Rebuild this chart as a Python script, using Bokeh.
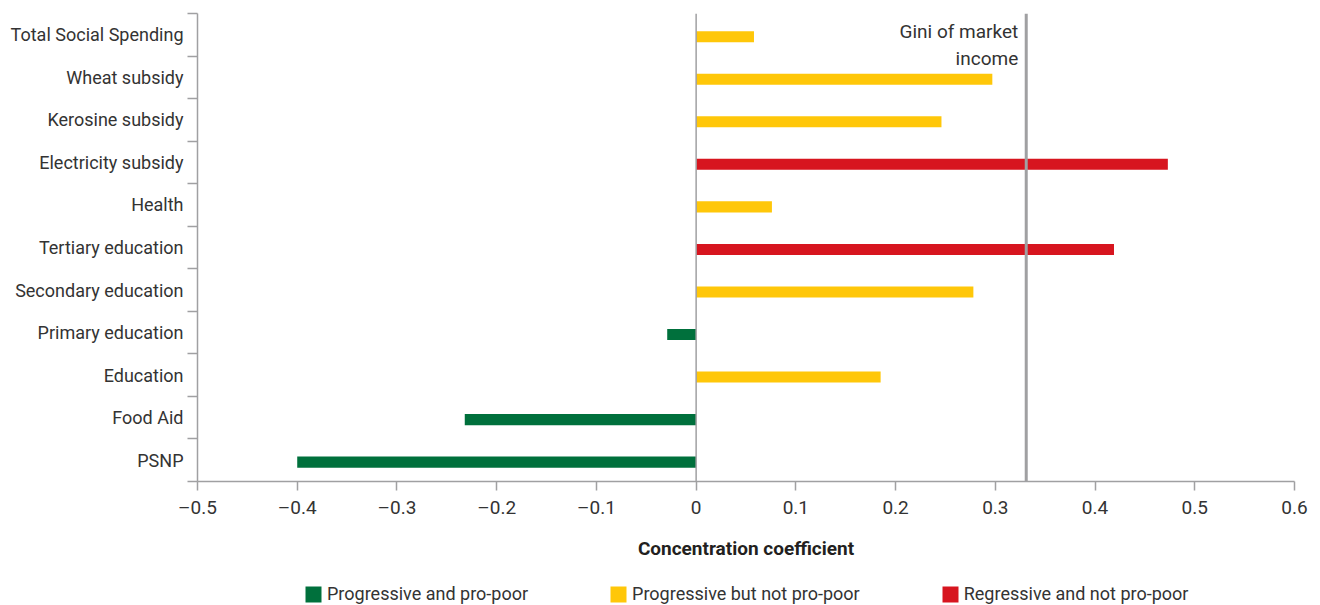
from bokeh.plotting import figure
from bokeh.layouts import column
from bokeh.models import (Range1d, FixedTicker, CustomJSTickFormatter, Span, Label,
                          Legend, LegendItem, ColumnDataSource)
from bokeh.embed import file_html
from bokeh.resources import INLINE

# ---- data ----
categories = ["PSNP", "Food Aid", "Education", "Primary education", "Secondary education",
              "Tertiary education", "Health", "Electricity subsidy", "Kerosine subsidy",
              "Wheat subsidy", "Total Social Spending"]
values = [-0.40, -0.232, 0.185, -0.029, 0.278, 0.419, 0.076, 0.473, 0.246, 0.297, 0.058]
groups = ["pro", "pro", "prog", "pro", "prog", "reg", "prog", "reg", "prog", "prog", "prog"]
group_order = ["pro", "prog", "reg"]
group_labels = {"pro": "Progressive and pro-poor",
                "prog": "Progressive but not pro-poor",
                "reg": "Regressive and not pro-poor"}
group_colors = {"pro": "#00703C", "prog": "#FFC709", "reg": "#D7151F"}
gini_market = 0.331
x_ticks = [-0.5, -0.4, -0.3, -0.2, -0.1, 0, 0.1, 0.2, 0.3, 0.4, 0.5, 0.6]

FONT = "Roboto"
TEXT = "#333333"
GRAY = "#A0A0A2"
W = 1316

p = figure(width=W, height=576, output_backend="svg", toolbar_location=None,
           x_range=Range1d(-0.5, 0.6), y_range=Range1d(-0.5, len(categories) - 0.5),
           min_border_left=197, min_border_right=22, min_border_top=13, min_border_bottom=95)
p.outline_line_color = None
p.xgrid.grid_line_color = None
p.ygrid.grid_line_color = None

# zero line and gini line
p.add_layout(Span(location=0, dimension="height", line_color=GRAY, line_width=1.5))
p.add_layout(Span(location=gini_market, dimension="height", line_color=GRAY, line_width=3))

for g in group_order:
    idx = [i for i, gg in enumerate(groups) if gg == g]
    src = ColumnDataSource(dict(y=[i - 0.045 for i in idx], right=[values[i] for i in idx]))
    p.hbar(y="y", left=0, right="right", height=0.26, source=src,
           fill_color=group_colors[g], line_color=None)

p.add_layout(Label(x=gini_market, y=len(categories) - 0.5, x_offset=-8, y_offset=-6,
                   text="Gini of market\nincome", text_align="right", text_baseline="top",
                   text_font=FONT, text_font_size="19px", text_color=TEXT,
                   text_line_height=1.2))

# x axis
xa = p.xaxis[0]
xa.ticker = FixedTicker(ticks=x_ticks)
xa.formatter = CustomJSTickFormatter(code="""
    if (Math.abs(tick) < 1e-9) return '0';
    return (tick < 0 ? '\u2013' : '') + Math.abs(tick).toFixed(1);
""")
xa.axis_line_color = GRAY
xa.axis_line_width = 1.5
xa.major_tick_line_color = GRAY
xa.major_tick_line_width = 1.5
xa.major_tick_out = 9
xa.major_tick_in = 0
xa.minor_tick_line_color = None
xa.major_label_text_font = FONT
xa.major_label_text_font_size = "19px"
xa.major_label_text_color = TEXT
xa.major_label_standoff = 5
xa.axis_label = "Concentration coefficient"
xa.axis_label_text_font = FONT
xa.axis_label_text_font_size = "19px"
xa.axis_label_text_font_style = "bold"
xa.axis_label_text_color = "#231F20"
xa.axis_label_standoff = 15

# y axis
ya = p.yaxis[0]
ya.ticker = FixedTicker(ticks=list(range(len(categories))),
                        minor_ticks=[i - 0.5 for i in range(len(categories) + 1)])
ya.major_label_overrides = {i: c for i, c in enumerate(categories)}
ya.axis_line_color = GRAY
ya.axis_line_width = 1.5
ya.major_tick_line_color = None
ya.minor_tick_line_color = GRAY
ya.minor_tick_line_width = 1.5
ya.minor_tick_out = 10
ya.minor_tick_in = 0
ya.major_tick_out = 0
ya.major_tick_in = 0
ya.major_label_standoff = 4
ya.major_label_text_font = FONT
ya.major_label_text_font_size = "18px"
ya.major_label_text_color = TEXT

# ---- legend strip ----
lf = figure(width=W, height=28, output_backend="svg", toolbar_location=None,
            x_range=Range1d(0, 1), y_range=Range1d(0, 1),
            x_axis_location=None, y_axis_location=None,
            min_border_left=197, min_border_right=22,
            min_border_top=0, min_border_bottom=0)
lf.outline_line_color = None
lf.xgrid.grid_line_color = None
lf.ygrid.grid_line_color = None
items = []
for g in group_order:
    # zero-size placeholder bar, used only to draw the legend swatch
    r = lf.hbar(y=[-10], left=[0], right=[0], height=0.0,
                fill_color=group_colors[g], line_color=None)
    items.append(LegendItem(label=group_labels[g], renderers=[r]))
legend = Legend(items=items, orientation="horizontal", location=(106, 0),
                label_text_font=FONT, label_text_font_size="18px", label_text_color=TEXT,
                glyph_width=20, glyph_height=20, label_standoff=4, spacing=80,
                border_line_color=None, padding=0, margin=0,
                background_fill_alpha=0)
lf.add_layout(legend, "center")

open("out.html", "w").write(file_html(column(p, lf, spacing=0), INLINE))
